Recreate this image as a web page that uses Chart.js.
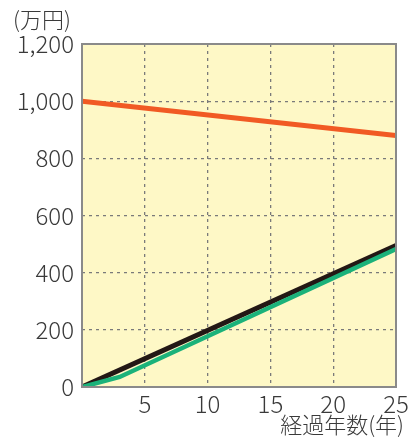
<!DOCTYPE html>
<html>
<head>
<meta charset="utf-8">
<script src="https://cdn.jsdelivr.net/npm/chart.js@4"></script>
<style>
  html, body { margin: 0; padding: 0; background: #fff; }
  #wrap { width: 418px; height: 437px; position: relative; }
</style>
</head>
<body>
<div id="wrap"><canvas id="chart" width="418" height="437"></canvas></div>
<script>
// values
const redYears = [0, 25];
const redValues = [1000, 880];
const blackYears = [0, 25];
const blackValues = [0, 495];
const greenYears = [0, 3, 25];
const greenValues = [0, 35, 483];
const xTicks = [5, 10, 15, 20, 25];
const yTitle = '(万円)';
const xTitle = '経過年数(年)';

const FONT = '"Noto Sans CJK JP", "Noto Sans", sans-serif';
const TEXT = '#3a3a3a';
const EDGE = '#8a8a8a';

function toPoints(xs, ys) {
    return xs.map((x, i) => ({ x: x, y: ys[i] }));
}

// yellow plot background + full frame + axis titles
const framePlugin = {
    id: 'frame',
    beforeDraw(chart) {
        const a = chart.chartArea;
        const ctx = chart.ctx;
        ctx.save();
        ctx.fillStyle = '#fef8c6';
        ctx.fillRect(a.left, a.top, a.right - a.left, a.bottom - a.top);
        ctx.restore();
    },
    afterDraw(chart) {
        const a = chart.chartArea;
        const ctx = chart.ctx;
        ctx.save();
        ctx.strokeStyle = EDGE;
        ctx.lineWidth = 2;
        ctx.strokeRect(a.left, a.top, a.right - a.left, a.bottom - a.top);
        ctx.fillStyle = TEXT;
        ctx.font = '300 22px ' + FONT;
        ctx.textBaseline = 'middle';
        ctx.textAlign = 'left';
        ctx.fillText(yTitle, 13, 20);
        ctx.textAlign = 'right';
        ctx.fillText(xTitle, 404, 425);
        ctx.restore();
    }
};

const chart = new Chart(document.getElementById('chart').getContext('2d'), {
    type: 'scatter',
    data: {
        datasets: [
            {
                data: toPoints(redYears, redValues),
                borderColor: '#f15a24',
                borderWidth: 5,
                showLine: true,
                pointRadius: 0
            },
            {
                data: toPoints(greenYears, greenValues),
                borderColor: '#1bb27a',
                borderWidth: 4.5,
                showLine: true,
                pointRadius: 0
            },
            {
                data: toPoints(blackYears, blackValues),
                borderColor: '#231815',
                borderWidth: 5,
                showLine: true,
                pointRadius: 0
            }
        ]
    },
    options: {
        responsive: false,
        animation: false,
        layout: { padding: { top: 44, right: 22, left: 0, bottom: 0 } },
        plugins: {
            legend: { display: false },
            tooltip: { enabled: false }
        },
        scales: {
            x: {
                type: 'linear',
                min: 0,
                max: 25,
                afterBuildTicks(scale) {
                    scale.ticks = [0].concat(xTicks).map(v => ({ value: v }));
                },
                afterFit(scale) { scale.height = 50; },
                ticks: {
                    color: TEXT,
                    font: { family: FONT, size: 24, weight: 300 },
                    padding: 2,
                    maxRotation: 0,
                    callback: v => (v === 0 ? '' : v)
                },
                grid: {
                    drawTicks: false,
                    color: ctx => (ctx.tick.value === 0 || ctx.tick.value === 25 ? 'rgba(0,0,0,0)' : '#7a7a7a'),
                    lineWidth: 1.3
                },
                border: { display: false, dash: [3, 4] }
            },
            y: {
                min: 0,
                max: 1200,
                afterFit(scale) { scale.width = 82; },
                ticks: {
                    stepSize: 200,
                    color: TEXT,
                    font: { family: FONT, size: 24, weight: 300 },
                    padding: 8,
                    callback: v => v.toLocaleString('en-US')
                },
                grid: {
                    drawTicks: false,
                    color: ctx => (ctx.tick.value === 0 || ctx.tick.value === 1200 ? 'rgba(0,0,0,0)' : '#7a7a7a'),
                    lineWidth: 1.3
                },
                border: { display: false, dash: [3, 4] }
            }
        }
    },
    plugins: [framePlugin]
});
</script>
</body>
</html>
